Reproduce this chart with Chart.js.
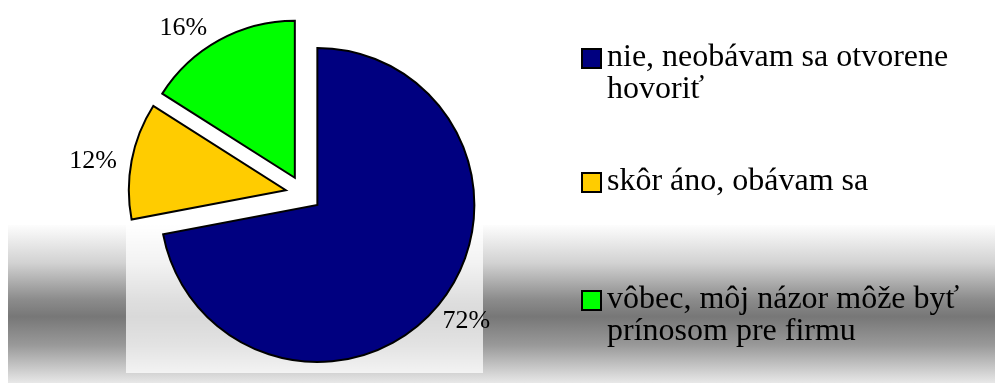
<!DOCTYPE html>
<html>
<head>
<meta charset="utf-8">
<script src="https://cdn.jsdelivr.net/npm/chart.js@4.4.1/dist/chart.umd.min.js"></script>
<style>
  body { margin: 0; background: #fff; }
  #wrap { position: relative; width: 995px; height: 385px; overflow: hidden; font-family: "Liberation Serif", "Times New Roman", serif; }
  #band { position: absolute; left: 8px; top: 225px; width: 987px; height: 158px;
          background: linear-gradient(#fdfdfd 0%, #d2d2d2 24%, #8c8c8c 47%, #777 58%, #999 76%, #e8e8e8 100%); }
  #plotArea { position: absolute; left: 126px; top: 0; width: 357px; height: 373px; background: rgba(255, 255, 255, 0.72); }
  #pieChart { position: absolute; left: 0; top: 0; }
  .item { position: absolute; left: 581px; width: 406px; padding-left: 26px; box-sizing: border-box;
          font-size: 32px; line-height: 32px; color: #000; }
  .box { position: absolute; left: 0; top: 9px; width: 17px; height: 17px; border: 2px solid #000; }
</style>
</head>
<body>
<div id="wrap">
  <div id="band"></div>
  <div id="plotArea"></div>
  <canvas id="pieChart" width="995" height="385"></canvas>
  <div id="legend"></div>
</div>
<script>
var labels = ['nie, neobávam sa otvorene hovoriť', 'skôr áno, obávam sa', 'vôbec, môj názor môže byť prínosom pre firmu'];
var shares = [72, 12, 16];
var sliceColors = ['#000080', '#FFCC00', '#00FF00'];

// slice pull-out and label placement
var explodePx = 18;
var labelDist = 188;
var labelNudge = [[4, -4], [-8, 6], [-21, 15]];
var legendTops = [39, 163, 281];

var explodePlugin = {
    id: 'explode',
    afterDatasetUpdate: function (chart, args) {
        args.meta.data.forEach(function (arc) {
            var mid = (arc.startAngle + arc.endAngle) / 2;
            arc.x += Math.cos(mid) * explodePx;
            arc.y += Math.sin(mid) * explodePx;
        });
    }
};

var percentLabels = {
    id: 'percentLabels',
    afterDatasetsDraw: function (chart) {
        var ctx = chart.ctx;
        var meta = chart.getDatasetMeta(0);
        ctx.save();
        ctx.font = '26px "Liberation Serif", "Times New Roman", serif';
        ctx.fillStyle = '#000';
        ctx.textAlign = 'center';
        ctx.textBaseline = 'middle';
        meta.data.forEach(function (arc, i) {
            var mid = (arc.startAngle + arc.endAngle) / 2;
            var x = arc.x + Math.cos(mid) * labelDist + labelNudge[i][0];
            var y = arc.y + Math.sin(mid) * labelDist + labelNudge[i][1];
            ctx.fillText(shares[i] + '%', x, y);
        });
        ctx.restore();
    }
};

var pieChart = new Chart(document.getElementById('pieChart').getContext('2d'), {
    type: 'pie',
    data: {
        labels: labels,
        datasets: [{
            data: shares,
            backgroundColor: sliceColors,
            borderColor: '#000',
            borderWidth: 2,
            borderJoinStyle: 'miter',
            radius: 157
        }]
    },
    options: {
        responsive: false,
        animation: false,
        events: [],
        layout: { padding: { left: 0, top: 2, right: 388, bottom: 0 } },
        plugins: {
            legend: { display: false },
            tooltip: { enabled: false }
        }
    },
    plugins: [explodePlugin, percentLabels]
});

// legend on the right, text wraps like the original
var legend = document.getElementById('legend');
labels.forEach(function (text, i) {
    var item = document.createElement('div');
    item.className = 'item';
    item.style.top = legendTops[i] + 'px';
    var box = document.createElement('span');
    box.className = 'box';
    box.style.background = sliceColors[i];
    item.appendChild(box);
    item.appendChild(document.createTextNode(text));
    legend.appendChild(item);
});
</script>
</body>
</html>
